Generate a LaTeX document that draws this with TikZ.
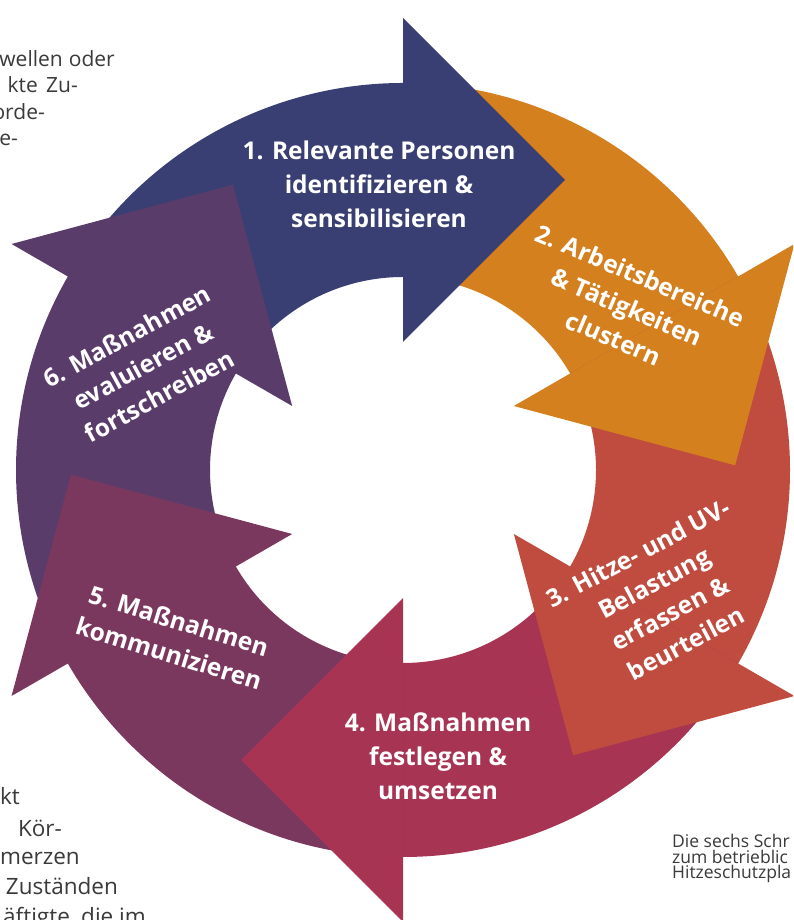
\documentclass[tikz,border=0pt]{standalone}
\usepackage{fontspec}
\setmainfont{Open Sans}
\usetikzlibrary{calc}
\definecolor{cA}{HTML}{3A3F73}
\definecolor{cB}{HTML}{D4801F}
\definecolor{cC}{HTML}{C04C40}
\definecolor{cD}{HTML}{A63452}
\definecolor{cE}{HTML}{7B385E}
\definecolor{cF}{HTML}{5A3C6B}
\definecolor{txt}{HTML}{3A3A3A}
\begin{document}
\begin{tikzpicture}[x=1pt,y=1pt,
  lbl/.style={text=white, font=\fontsize{24.5}{34}\selectfont\bfseries, align=center, inner sep=0pt},
  bodytxt/.style={text=txt, font=\fontsize{21}{26}\selectfont, inner sep=0pt, anchor=base east},
  bodytxtb/.style={text=txt, font=\fontsize{22.5}{30}\selectfont, inner sep=0pt, anchor=base east},
  captxt/.style={text=txt, font=\fontsize{17.5}{16}\selectfont, inner sep=0pt, anchor=base west}]
\useasboundingbox (0,0) rectangle (793,920);
\clip (0,0) rectangle (793,920);
\fill[white] (0,0) rectangle (793,920);
\coordinate (C) at (403,450);
\begin{scope}[shift={(403,450)}]
  % bodies (each runs a little under its own head to avoid seams)
  \foreach \a/\col in {90/cA,30/cB,-30/cC,-90/cD,-150/cE,-210/cF}{
    \fill[\col] (\a+60:387) arc[start angle=\a+60, end angle=\a-2, radius=387]
      -- (\a-2:193) arc[start angle=\a-2, end angle=\a+60, radius=193] -- cycle;
  }
  % heads
  \foreach \a/\col in {90/cA,30/cB,-30/cC,-90/cD,-150/cE,-210/cF}{
    \fill[\col] (\a:452) -- ($(\a:290)+(\a-90:162)$) -- (\a:128) -- cycle;
  }
\end{scope}
% labels
\node[lbl] (l1) at (379,736) {1. Relevante Personen\\identifizieren \&\\sensibilisieren};
\node[lbl, rotate=-23] (l2) at (627,613) {2. Arbeitsbereiche\\\& Tätigkeiten\\clustern};
\node[lbl, rotate=28] (l3) at (662,322) {3. Hitze- und UV-\\Belastung\\erfassen \&\\beurteilen};
\node[lbl] (l4) at (438,164) {4. Maßnahmen\\festlegen \&\\umsetzen};
\node[lbl, rotate=-17] (l5) at (174,283) {5. Maßnahmen\\kommunizieren};
\node[lbl, rotate=28.5] (l6) at (143,554) {6. Maßnahmen\\evaluieren \&\\fortschreiben};
% cut-off body text top-left
\node[bodytxt] (t1a) at (63,853) {wellen};
\node[bodytxt] (t1b) at (115,853) {oder};
\node[bodytxt] (t2a) at (38,827) {kte};
\node[bodytxt] (t2b) at (78,827) {Zu-};
\node[bodytxt] (t3) at (45,800) {orde-};
\node[bodytxt] (t4) at (18,774) {e-};
% cut-off body text bottom-left
\node[bodytxtb] (b1) at (20,115) {kt};
\node[bodytxtb, anchor=base] (b2) at (40,83) {Kör-};
\node[bodytxtb] (b3) at (80,55) {merzen};
\node[bodytxtb] (b4) at (118,25) {Zuständen};
\node[bodytxtb] (b5) at (146,-5) {äftigte, die im};
% caption bottom-right
\node[captxt] (c1) at (672,72) {Die sechs Schr};
\node[captxt] (c2) at (672,56.5) {zum betrieblic};
\node[captxt] (c3) at (672,41) {Hitzeschutzpla};
\end{tikzpicture}
\end{document}
